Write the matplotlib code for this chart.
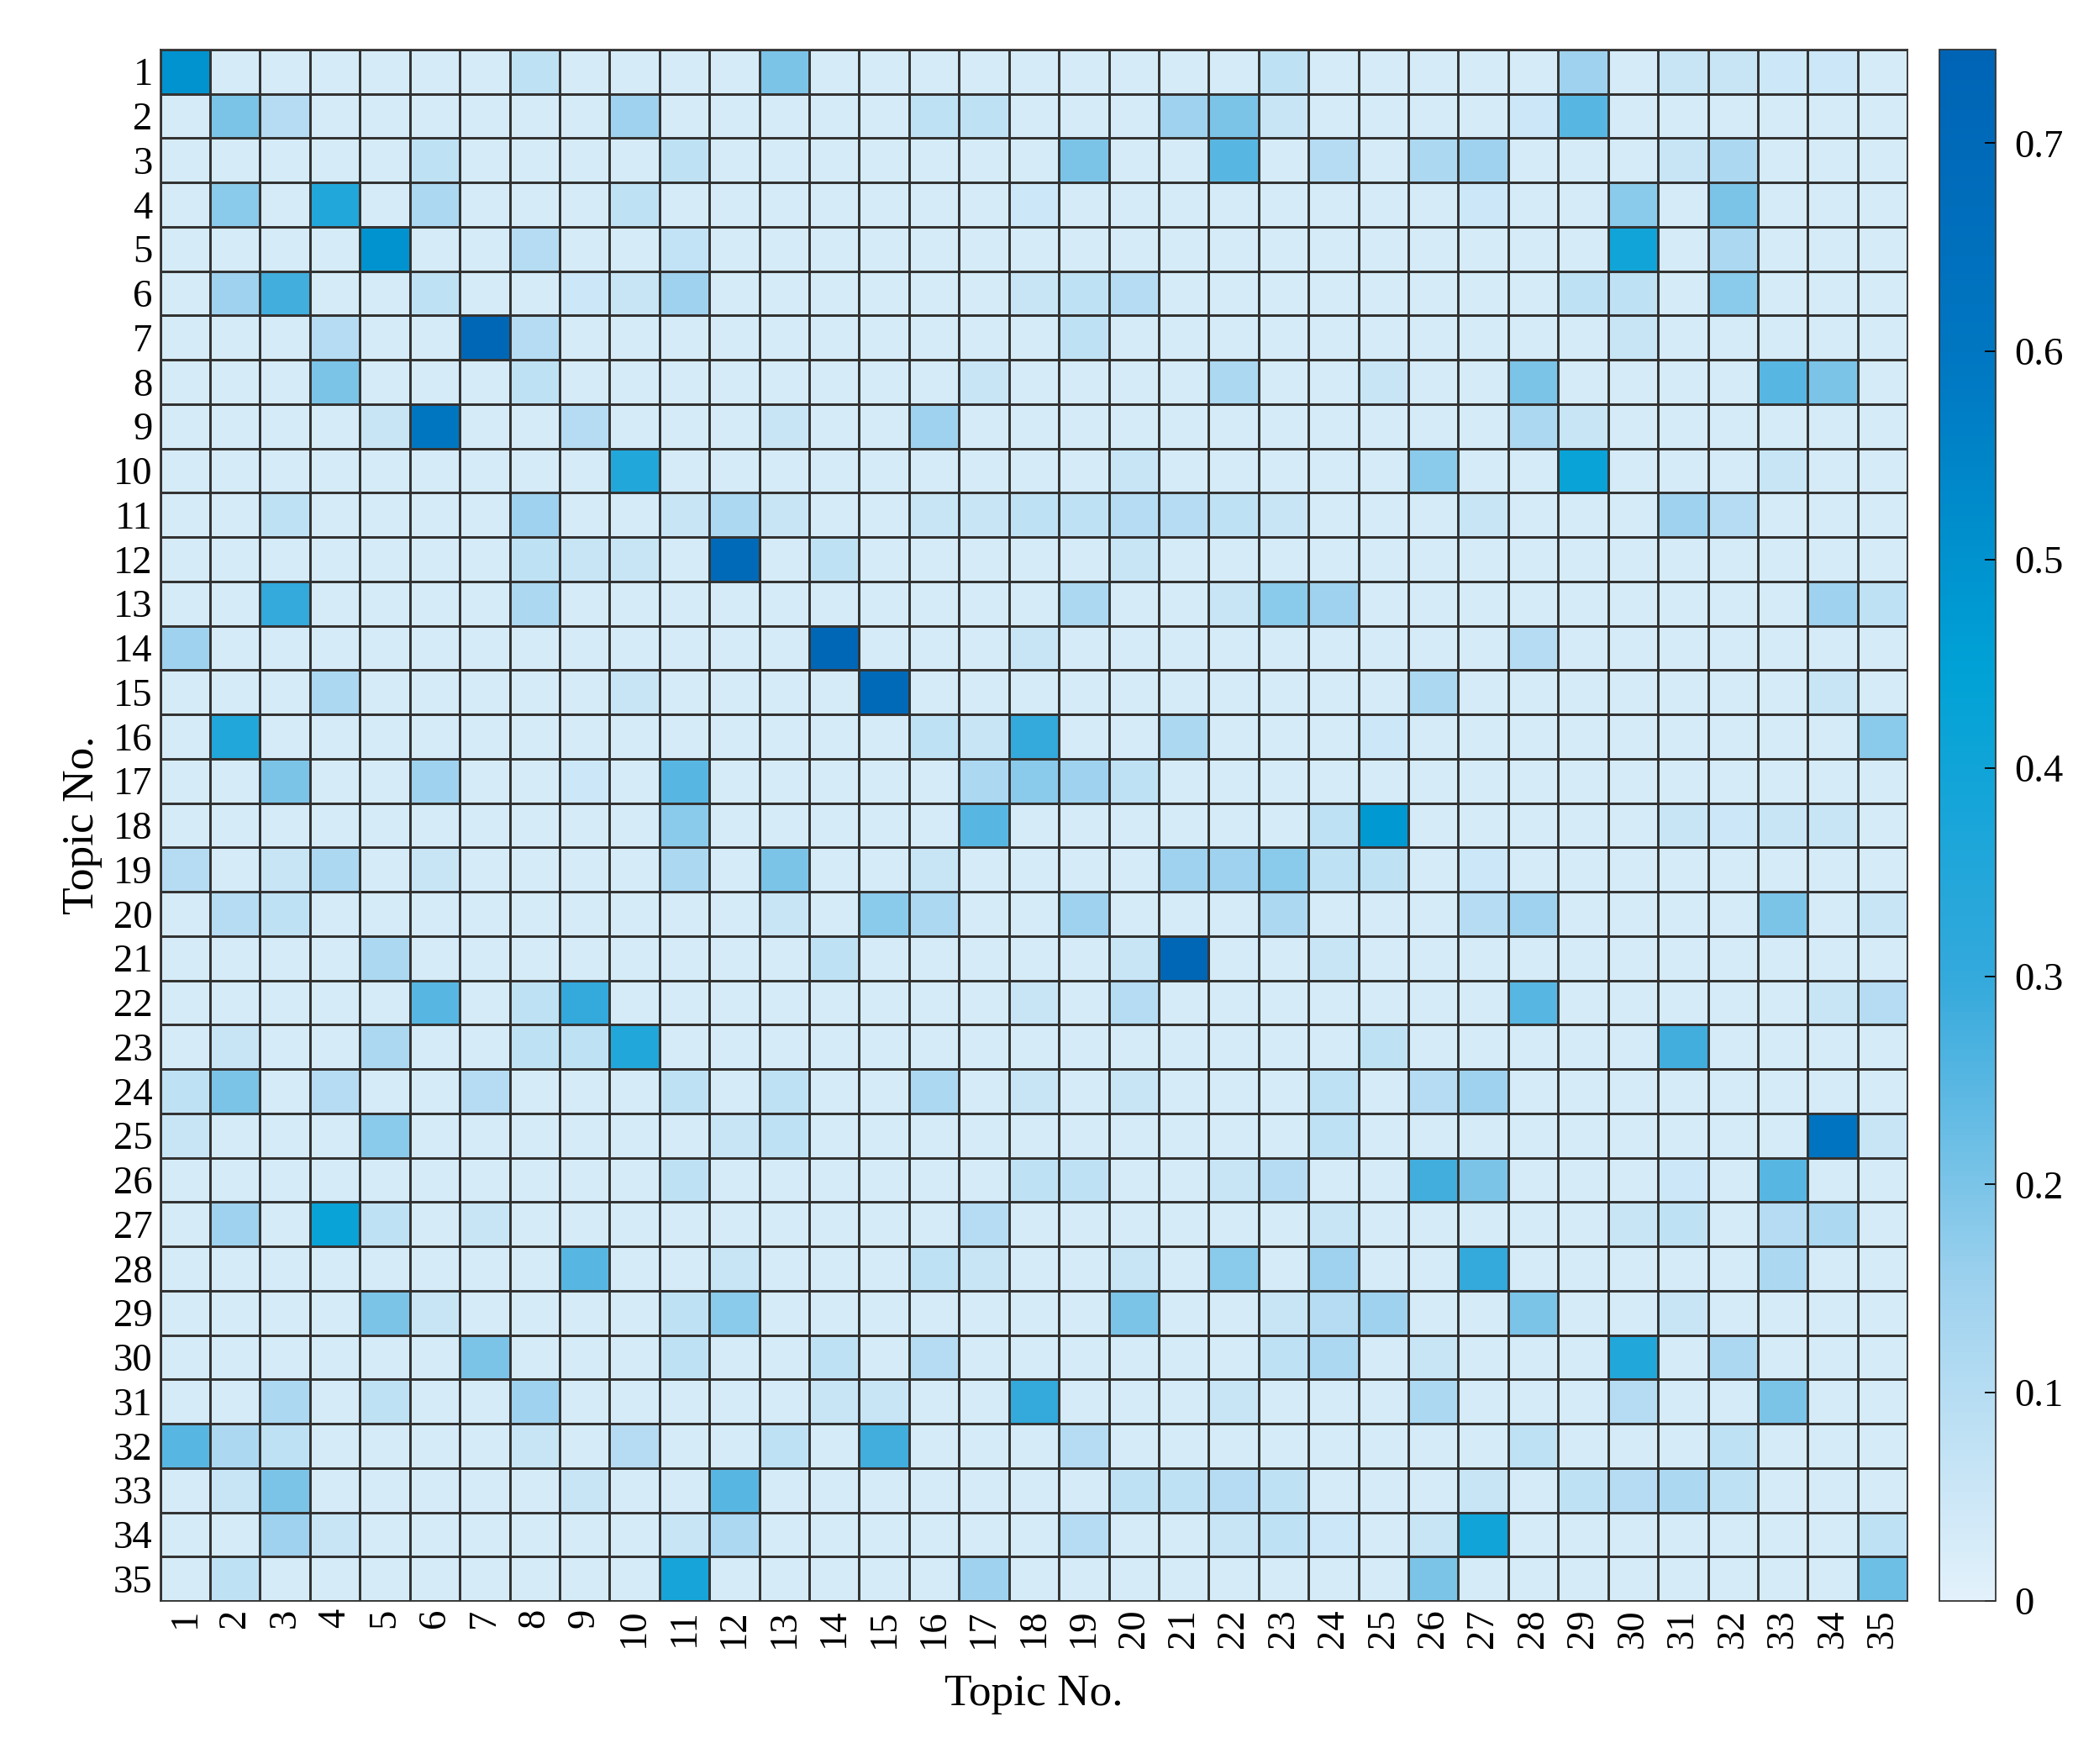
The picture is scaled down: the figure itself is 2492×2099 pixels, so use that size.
import numpy as np
import matplotlib.pyplot as plt
from matplotlib.colors import LinearSegmentedColormap

plt.rcParams['font.family'] = ['Liberation Serif', 'DejaVu Serif']

n_topics = 35
topics = [str(i) for i in range(1, n_topics + 1)]
base_value = 0.03

# notable cells per row: {column: value}, topic numbers start at 1
highlights = {
    1: {1: 0.5, 8: 0.08, 13: 0.2, 23: 0.08, 29: 0.15, 31: 0.06, 32: 0.06, 33: 0.05, 34: 0.05},
    2: {2: 0.2, 3: 0.1, 10: 0.15, 16: 0.08, 17: 0.08, 21: 0.15, 22: 0.2, 23: 0.06, 28: 0.05, 29: 0.25},
    3: {6: 0.08, 11: 0.08, 19: 0.2, 22: 0.25, 24: 0.1, 26: 0.12, 27: 0.15, 31: 0.06, 32: 0.12},
    4: {2: 0.18, 4: 0.35, 6: 0.12, 10: 0.08, 18: 0.05, 27: 0.05, 30: 0.18, 32: 0.2},
    5: {5: 0.5, 8: 0.1, 11: 0.07, 30: 0.4, 32: 0.12},
    6: {2: 0.15, 3: 0.28, 6: 0.08, 9: 0.05, 10: 0.06, 11: 0.15, 18: 0.06, 19: 0.08, 20: 0.1, 29: 0.08, 30: 0.08, 32: 0.18},
    7: {4: 0.1, 7: 0.72, 8: 0.1, 19: 0.08, 30: 0.06},
    8: {4: 0.2, 8: 0.08, 17: 0.06, 22: 0.12, 25: 0.06, 28: 0.2, 33: 0.25, 34: 0.2},
    9: {5: 0.06, 6: 0.6, 9: 0.1, 13: 0.06, 16: 0.15, 28: 0.12, 29: 0.06},
    10: {10: 0.35, 20: 0.06, 26: 0.18, 29: 0.42, 33: 0.06},
    11: {3: 0.08, 8: 0.15, 11: 0.06, 12: 0.12, 13: 0.06, 16: 0.06, 17: 0.06, 18: 0.08, 19: 0.08, 20: 0.1,
         21: 0.1, 22: 0.08, 23: 0.06, 27: 0.06, 31: 0.15, 32: 0.1},
    12: {8: 0.08, 9: 0.06, 10: 0.06, 12: 0.7, 14: 0.08, 20: 0.06},
    13: {3: 0.3, 8: 0.12, 19: 0.12, 22: 0.06, 23: 0.18, 24: 0.15, 34: 0.15, 35: 0.08},
    14: {1: 0.15, 14: 0.72, 18: 0.06, 28: 0.1},
    15: {4: 0.12, 10: 0.06, 15: 0.7, 26: 0.12, 34: 0.06},
    16: {2: 0.35, 16: 0.08, 17: 0.06, 18: 0.3, 21: 0.12, 25: 0.05, 35: 0.18},
    17: {3: 0.2, 6: 0.15, 9: 0.05, 11: 0.25, 17: 0.12, 18: 0.18, 19: 0.15, 20: 0.08},
    18: {11: 0.18, 17: 0.25, 24: 0.08, 25: 0.48, 31: 0.06, 32: 0.05, 33: 0.06, 34: 0.06},
    19: {1: 0.1, 3: 0.06, 4: 0.12, 6: 0.06, 11: 0.12, 13: 0.2, 16: 0.06, 21: 0.15, 22: 0.15, 23: 0.18,
         24: 0.08, 25: 0.08, 27: 0.05},
    20: {2: 0.1, 3: 0.08, 13: 0.06, 15: 0.18, 16: 0.12, 19: 0.15, 23: 0.12, 27: 0.1, 28: 0.15, 33: 0.2, 35: 0.06},
    21: {5: 0.12, 14: 0.08, 20: 0.06, 21: 0.72, 24: 0.06},
    22: {6: 0.25, 8: 0.08, 9: 0.3, 18: 0.06, 20: 0.1, 28: 0.25, 34: 0.06, 35: 0.1},
    23: {2: 0.06, 5: 0.12, 8: 0.08, 9: 0.08, 10: 0.35, 25: 0.08, 31: 0.28},
    24: {1: 0.08, 2: 0.2, 4: 0.1, 7: 0.1, 11: 0.08, 13: 0.08, 16: 0.12, 18: 0.06, 20: 0.06, 24: 0.08,
         26: 0.1, 27: 0.15},
    25: {1: 0.06, 5: 0.18, 12: 0.06, 13: 0.08, 24: 0.08, 34: 0.62, 35: 0.06},
    26: {11: 0.08, 18: 0.08, 19: 0.08, 22: 0.06, 23: 0.1, 26: 0.28, 27: 0.2, 31: 0.05, 33: 0.25},
    27: {2: 0.15, 4: 0.42, 5: 0.08, 7: 0.06, 17: 0.1, 24: 0.06, 30: 0.06, 31: 0.08, 33: 0.1, 34: 0.12},
    28: {9: 0.25, 12: 0.06, 16: 0.08, 17: 0.06, 20: 0.06, 22: 0.18, 24: 0.15, 27: 0.3, 33: 0.12},
    29: {5: 0.2, 6: 0.06, 11: 0.08, 12: 0.18, 20: 0.2, 23: 0.06, 24: 0.1, 25: 0.15, 28: 0.2, 31: 0.06},
    30: {7: 0.2, 11: 0.08, 14: 0.08, 16: 0.1, 23: 0.08, 24: 0.12, 26: 0.06, 30: 0.35, 32: 0.12},
    31: {3: 0.12, 5: 0.08, 8: 0.15, 14: 0.06, 15: 0.06, 18: 0.3, 22: 0.06, 26: 0.12, 30: 0.1, 33: 0.2},
    32: {1: 0.25, 2: 0.12, 3: 0.08, 8: 0.06, 10: 0.1, 13: 0.08, 15: 0.28, 19: 0.1, 28: 0.08, 32: 0.08},
    33: {2: 0.06, 3: 0.2, 9: 0.06, 12: 0.25, 20: 0.08, 21: 0.08, 22: 0.1, 23: 0.08, 27: 0.06, 29: 0.08,
         30: 0.1, 31: 0.12, 32: 0.08},
    34: {3: 0.15, 4: 0.06, 11: 0.06, 12: 0.12, 19: 0.1, 22: 0.06, 23: 0.08, 24: 0.05, 26: 0.06, 27: 0.4, 35: 0.08},
    35: {2: 0.08, 11: 0.38, 17: 0.15, 26: 0.2, 35: 0.22},
}

matrix = np.full((n_topics, n_topics), base_value)
for r, cells in highlights.items():
    for c, v in cells.items():
        matrix[r - 1, c - 1] = v

cmap = LinearSegmentedColormap.from_list(
    "topic_blue", ["#e2f1fb", "#9fd2ee", "#34a9dc", "#00a2d6", "#0077c2", "#0064b5"],
)

fig = plt.figure(figsize=(2492 / 160, 2099 / 160), dpi=160)
ax = fig.add_axes([0.0765, 0.0924, 0.8345, 0.8796])
cax = fig.add_axes([0.926, 0.0924, 0.027, 0.8796])

mesh = ax.pcolormesh(matrix, cmap=cmap, vmin=0, vmax=0.745, edgecolors="#333333", linewidth=1.2)
ax.set_xlim(0, n_topics)
ax.set_ylim(n_topics, 0)
ax.set_xticks(np.arange(n_topics) + 0.5)
ax.set_xticklabels(topics, rotation=90, fontsize=21)
ax.set_yticks(np.arange(n_topics) + 0.5)
ax.set_yticklabels(topics, fontsize=21)
ax.tick_params(length=0, pad=4)
ax.set_xlabel("Topic No.", fontsize=24, labelpad=14)
ax.set_ylabel("Topic No.", fontsize=24, labelpad=6)
for s in ax.spines.values():
    s.set_color("#333333")

cb = fig.colorbar(mesh, cax=cax, ticks=[0, 0.1, 0.2, 0.3, 0.4, 0.5, 0.6, 0.7])
cb.ax.set_yticklabels(["0", "0.1", "0.2", "0.3", "0.4", "0.5", "0.6", "0.7"], fontsize=21)
cb.ax.tick_params(length=6, direction="in", pad=10)
cb.outline.set_color("#333333")

fig.savefig("out.png", dpi=160)
